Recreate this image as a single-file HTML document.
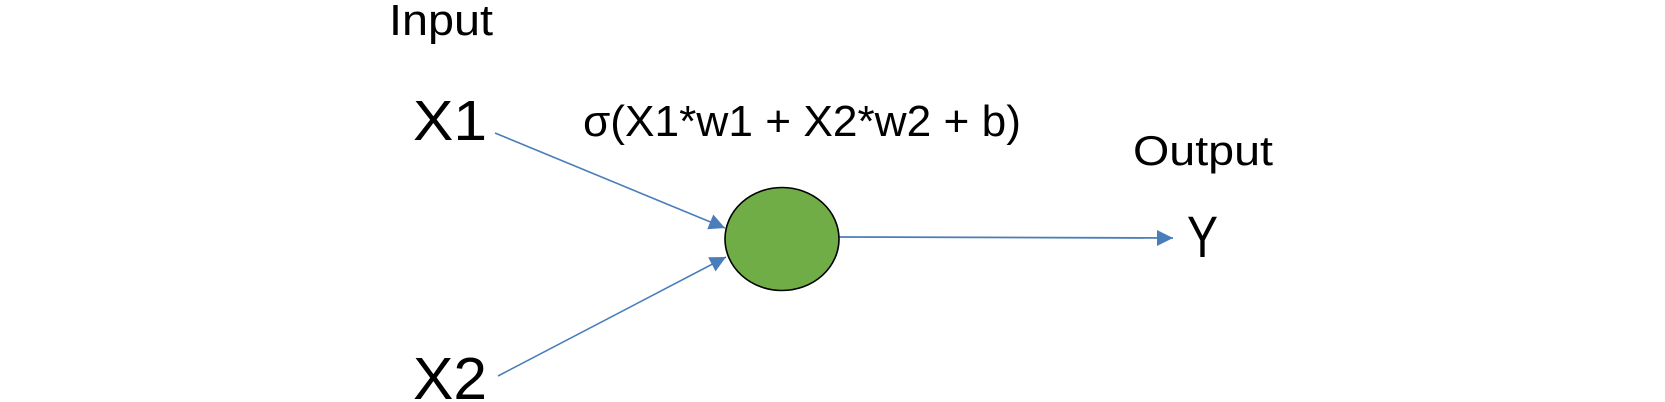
<!DOCTYPE html>
<html><head><meta charset="utf-8"><style>html,body{margin:0;padding:0;background:#fff;}svg{display:block;}</style></head>
<body>
<svg width="1665" height="402" viewBox="0 0 1665 402" font-family="Liberation Sans, sans-serif" fill="#000">
<defs>
<marker id="ah2" viewBox="0 0 10 10" markerWidth="16" markerHeight="17" refX="10" refY="5" orient="auto" markerUnits="userSpaceOnUse"><path d="M0,0 L10,5 L0,10 z" fill="#4a7ebb"/></marker></defs>
<text x="389" y="35" font-size="44" textLength="104" lengthAdjust="spacingAndGlyphs">Input</text>
<text x="413" y="140" font-size="57" textLength="74" lengthAdjust="spacingAndGlyphs">X1</text>
<text x="413" y="399" font-size="59" textLength="74" lengthAdjust="spacingAndGlyphs">X2</text>
<text x="583" y="136" font-size="44" textLength="438" lengthAdjust="spacingAndGlyphs">σ(X1*w1 + X2*w2 + b)</text>
<text x="1133" y="165" font-size="42" textLength="140" lengthAdjust="spacingAndGlyphs">Output</text>
<text x="1187" y="257" font-size="58" textLength="31" lengthAdjust="spacingAndGlyphs">Y</text>
<line x1="495" y1="133" x2="725" y2="228" stroke="#4a7ebb" stroke-width="1.6" marker-end="url(#ah2)"/>
<line x1="498" y1="376" x2="726" y2="257" stroke="#4a7ebb" stroke-width="1.6" marker-end="url(#ah2)"/>
<line x1="839" y1="237" x2="1173" y2="238" stroke="#4a7ebb" stroke-width="1.8" marker-end="url(#ah2)"/>
<ellipse cx="782" cy="239" rx="57" ry="51.5" fill="#70ad47" stroke="#000" stroke-width="1.6"/>
</svg>
</body></html>
